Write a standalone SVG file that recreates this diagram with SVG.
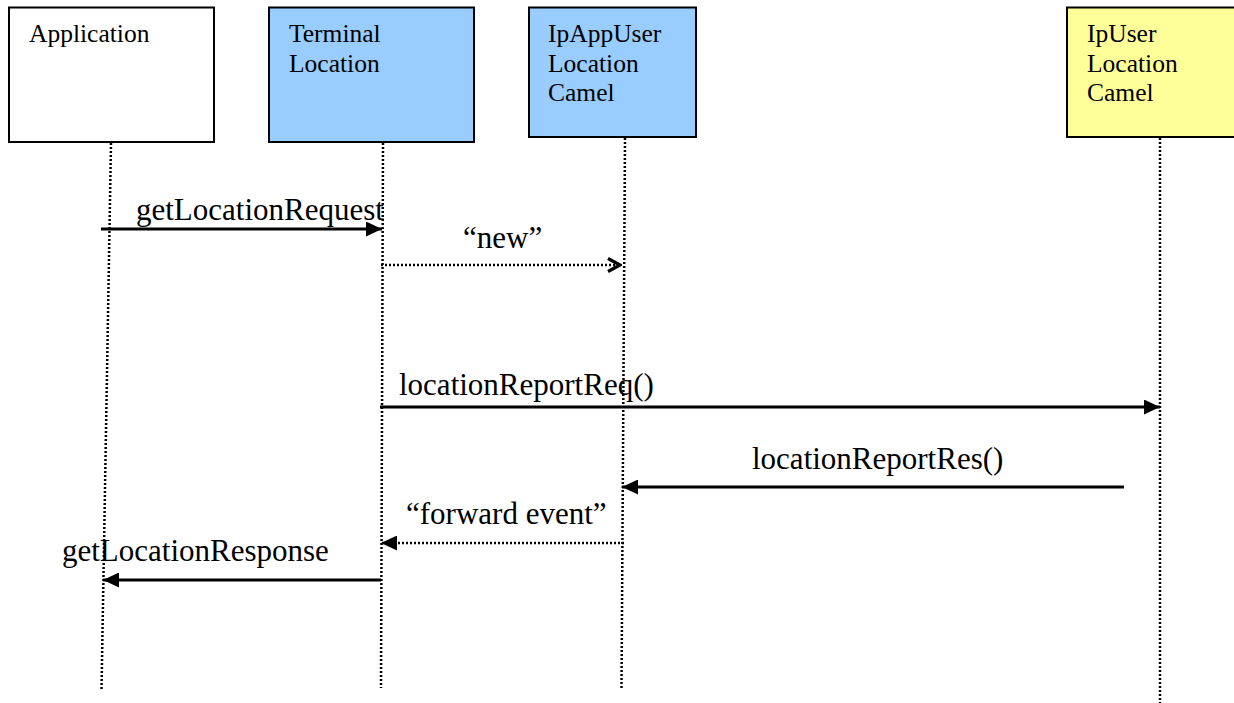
<svg xmlns="http://www.w3.org/2000/svg" width="1234" height="703" viewBox="0 0 1234 703">
<style>
.box{stroke:#000;stroke-width:2}
.lbl{font-size:25.5px;fill:#000}
.msg{font-size:31px;fill:#000}
.life{stroke:#000;stroke-width:2.5;stroke-dasharray:2 2;fill:none}
.solid{stroke:#000;stroke-width:3;fill:none}
.dot{stroke:#000;stroke-width:2.5;stroke-dasharray:2 2;fill:none}
</style>
<defs>
<marker id="filled" viewBox="0 0 16 15" refX="16" refY="7.5" markerWidth="16" markerHeight="15" markerUnits="userSpaceOnUse" orient="auto">
<path d="M0,0 L16,7.5 L0,15 Z" fill="#000"/>
</marker>
<marker id="open" viewBox="0 0 16 16" refX="14" refY="8" markerWidth="16" markerHeight="16" markerUnits="userSpaceOnUse" orient="auto">
<path d="M2,1.5 L14,8 L2,14.5" fill="none" stroke="#000" stroke-width="3.2"/>
</marker>
</defs>
<rect width="1234" height="703" fill="#fff"/>
<g font-family="Liberation Serif, Tinos, Times New Roman, DejaVu Serif, serif">
<g id="application">
<rect class="box" x="9" y="7.5" width="205" height="134.5" fill="#fff"/>
<text class="lbl" x="29" y="42">Application</text>
</g>
<g id="terminal-location">
<rect class="box" x="269" y="7.5" width="205" height="134.5" fill="#99CCFF"/>
<text class="lbl" x="289" y="42">Terminal</text>
<text class="lbl" x="289" y="71.5">Location</text>
</g>
<g id="ipappuser-location-camel">
<rect class="box" x="529" y="7.5" width="167" height="129.5" fill="#99CCFF"/>
<text class="lbl" x="548" y="42">IpAppUser</text>
<text class="lbl" x="548" y="71.5">Location</text>
<text class="lbl" x="548" y="101">Camel</text>
</g>
<g id="ipuser-location-camel">
<rect class="box" x="1067" y="7.5" width="175" height="129.5" fill="#FFFF99"/>
<text class="lbl" x="1087" y="42">IpUser</text>
<text class="lbl" x="1087" y="71.5">Location</text>
<text class="lbl" x="1087" y="101">Camel</text>
</g>
<g id="lifelines">
<line class="life" x1="111" y1="143" x2="101.5" y2="690"/>
<line class="life" x1="383" y1="143" x2="381" y2="688"/>
<line class="life" x1="625" y1="138" x2="621.5" y2="688"/>
<line class="life" x1="1160" y1="138" x2="1160" y2="703"/>
</g>
<g id="connectors">
<line class="solid" x1="101" y1="229" x2="382" y2="229" marker-end="url(#filled)"/>
<text class="msg" x="136" y="220">getLocationRequest</text>
<line class="dot" x1="381" y1="265" x2="620" y2="265" marker-end="url(#open)"/>
<text class="msg" x="463" y="248">“new”</text>
<line class="solid" x1="380" y1="407" x2="1160" y2="407" marker-end="url(#filled)"/>
<text class="msg" x="399" y="395">locationReportReq()</text>
<line class="solid" x1="1124" y1="487" x2="622" y2="487" marker-end="url(#filled)"/>
<text class="msg" x="752" y="469">locationReportRes()</text>
<line class="dot" x1="624" y1="543" x2="381" y2="543" marker-end="url(#filled)"/>
<text class="msg" x="406" y="524">“forward event”</text>
<line class="solid" x1="381" y1="580" x2="103" y2="580" marker-end="url(#filled)"/>
<text class="msg" x="62" y="561">getLocationResponse</text>
</g>
</g>
</svg>
